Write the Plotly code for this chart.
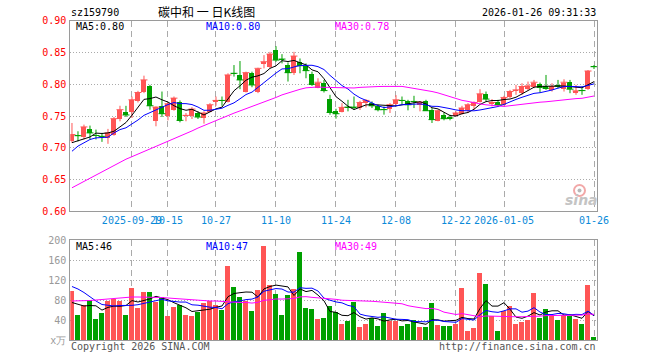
import plotly.graph_objects as go
import pandas as pd

# ---------------- data ----------------
sep_days = [15, 16, 17, 18, 19, 22, 23, 24, 25, 26, 29, 30]
oct_days = [9, 10, 13, 14, 15, 16, 17, 20, 21, 22, 23, 24, 27, 28, 29, 30, 31]
nov_days = [3, 4, 5, 6, 7, 10, 11, 12, 13, 14, 17, 18, 19, 20, 21, 24, 25, 26, 27, 28]
dec_days = [1, 2, 3, 4, 5, 8, 9, 10, 11, 12, 15, 16, 17, 18, 19, 22, 23, 24, 25, 26, 29, 30, 31]
jan_days = [5, 6, 7, 8, 9, 12, 13, 14, 15, 16, 19, 20, 21, 22, 23, 26]

dates = ([f"2025-09-{d:02d}" for d in sep_days] + [f"2025-10-{d:02d}" for d in oct_days]
         + [f"2025-11-{d:02d}" for d in nov_days] + [f"2025-12-{d:02d}" for d in dec_days]
         + [f"2026-01-{d:02d}" for d in jan_days])

open_ = [0.7104, 0.7195, 0.7182, 0.7302, 0.7195, 0.7182, 0.7156, 0.7208, 0.7453, 0.7568,
         0.7573, 0.7739, 0.7875, 0.7974, 0.7432, 0.7661, 0.7505, 0.7599, 0.7729, 0.7505,
         0.7505, 0.7547, 0.7468, 0.7573, 0.7740, 0.7750, 0.7729, 0.8177, 0.8146, 0.7885,
         0.8182, 0.7875, 0.8318, 0.8276, 0.8536, 0.8401, 0.8312, 0.8182, 0.8349, 0.8292,
         0.8161, 0.7953, 0.8031, 0.7766, 0.7583, 0.7573, 0.7645, 0.7645, 0.7625, 0.7719,
         0.7703, 0.7661, 0.7604, 0.7614, 0.7693, 0.7750, 0.7740, 0.7734, 0.7693, 0.7740,
         0.7599, 0.7432, 0.7521, 0.7474, 0.7510, 0.7536, 0.7599, 0.7661, 0.7729, 0.7849,
         0.7708, 0.7729, 0.7677, 0.7807, 0.7906, 0.7859, 0.7922, 0.7964, 0.8016, 0.7974,
         0.7911, 0.8000, 0.7937, 0.8042, 0.7859, 0.7905, 0.7922, 0.8281]
high = [0.7390, 0.7260, 0.7364, 0.7349, 0.7286, 0.7234, 0.7297, 0.7484, 0.7661, 0.7660,
        0.7807, 0.7896, 0.8135, 0.7990, 0.7650, 0.7885, 0.7713, 0.7807, 0.7745, 0.7547,
        0.7640, 0.7573, 0.7573, 0.7703, 0.7807, 0.7807, 0.8172, 0.8302, 0.8365, 0.8198,
        0.8198, 0.8260, 0.8458, 0.8510, 0.8599, 0.8474, 0.8344, 0.8510, 0.8406, 0.8328,
        0.8198, 0.8094, 0.8068, 0.7833, 0.7614, 0.7703, 0.7755, 0.7807, 0.7739, 0.7766,
        0.7730, 0.7677, 0.7651, 0.7703, 0.7828, 0.7807, 0.7755, 0.7818, 0.7729, 0.7755,
        0.7625, 0.7599, 0.7557, 0.7520, 0.7573, 0.7661, 0.7703, 0.7729, 0.7922, 0.7885,
        0.7766, 0.7755, 0.7818, 0.7911, 0.7990, 0.8016, 0.8042, 0.8068, 0.8026, 0.8146,
        0.8016, 0.8068, 0.8078, 0.8068, 0.7990, 0.7964, 0.8224, 0.8302]
low = [0.7078, 0.7100, 0.7130, 0.7130, 0.7130, 0.7093, 0.7062, 0.7190, 0.7416, 0.7484,
       0.7469, 0.7713, 0.7860, 0.7599, 0.7338, 0.7484, 0.7432, 0.7583, 0.7400, 0.7417,
       0.7453, 0.7453, 0.7380, 0.7557, 0.7661, 0.7661, 0.7713, 0.8120, 0.7922, 0.7870,
       0.7953, 0.7860, 0.8250, 0.8250, 0.8354, 0.8328, 0.8042, 0.8146, 0.8172, 0.8094,
       0.7974, 0.7937, 0.7870, 0.7520, 0.7458, 0.7557, 0.7573, 0.7599, 0.7594, 0.7635,
       0.7625, 0.7573, 0.7521, 0.7547, 0.7661, 0.7677, 0.7589, 0.7625, 0.7573, 0.7583,
       0.7390, 0.7416, 0.7432, 0.7432, 0.7495, 0.7521, 0.7547, 0.7599, 0.7713, 0.7729,
       0.7651, 0.7641, 0.7661, 0.7781, 0.7833, 0.7833, 0.7901, 0.7937, 0.7870, 0.7911,
       0.7885, 0.7937, 0.7885, 0.7859, 0.7833, 0.7833, 0.7911, 0.8240]
close = [0.7208, 0.7190, 0.7328, 0.7234, 0.7193, 0.7180, 0.7234, 0.7458, 0.7599, 0.7516,
         0.7755, 0.7870, 0.8068, 0.7661, 0.7640, 0.7536, 0.7693, 0.7781, 0.7432, 0.7510,
         0.7609, 0.7484, 0.7547, 0.7677, 0.7745, 0.7745, 0.8146, 0.8172, 0.8068, 0.8182,
         0.7989, 0.8250, 0.8354, 0.8474, 0.8380, 0.8396, 0.8182, 0.8443, 0.8292, 0.8214,
         0.8000, 0.8031, 0.7900, 0.7557, 0.7536, 0.7635, 0.7640, 0.7640, 0.7713, 0.7745,
         0.7661, 0.7599, 0.7600, 0.7677, 0.7755, 0.7745, 0.7677, 0.7729, 0.7719, 0.7583,
         0.7443, 0.7583, 0.7458, 0.7469, 0.7547, 0.7625, 0.7677, 0.7713, 0.7849, 0.7766,
         0.7713, 0.7677, 0.7792, 0.7885, 0.7911, 0.7964, 0.7974, 0.8031, 0.7953, 0.7937,
         0.7964, 0.7974, 0.8031, 0.7922, 0.7896, 0.7900, 0.8208, 0.8276]
volume = [98, 51, 70, 80, 43, 55, 78, 83, 78, 51,
          104, 64, 96, 96, 77, 86, 48, 66, 71, 51,
          49, 56, 74, 78, 71, 61, 149, 106, 86, 78,
          59, 100, 188, 110, 92, 51, 90, 102, 176, 65,
          63, 43, 45, 69, 57, 33, 39, 77, 27, 33,
          45, 29, 55, 39, 39, 29, 33, 41, 27, 27,
          75, 31, 29, 29, 33, 104, 19, 25, 134, 112,
          49, 19, 59, 69, 33, 37, 41, 94, 45, 63,
          49, 41, 51, 49, 43, 33, 110, 7]

# moving-average values before the window is full
ma5_head = [0.7080, 0.7104, 0.7140, 0.7170]
ma10_head = [0.6945, 0.7026, 0.7078, 0.7130, 0.7156, 0.7156, 0.7167, 0.7234, 0.7286]
ma30_head = [0.6370, 0.6420, 0.6470, 0.6520, 0.6575, 0.6625, 0.6670, 0.6720, 0.6770, 0.6820,
             0.6860, 0.6900, 0.6940, 0.6980, 0.7016, 0.7060, 0.7100, 0.7140, 0.7180, 0.7220,
             0.7265, 0.7310, 0.7350, 0.7395, 0.7438, 0.7470, 0.7510, 0.7545, 0.7580]
vma5_head = [75, 71, 68, 69]
vma10_head = [107, 102, 95, 86, 78, 71, 69, 68, 69]
vma30_head = [78, 78, 78, 79, 80, 81, 83, 84, 85, 85,
              86, 86, 86, 86, 86, 85, 84, 83, 83, 82,
              81, 80, 79, 78, 78, 77, 76, 76, 75]

tick_dates = ["2025-09-29", "2025-10-15", "2025-10-27", "2025-11-10", "2025-11-24",
              "2025-12-08", "2025-12-22", "2026-01-05", "2026-01-26"]
tick_text = ["2025-09-29", "10-15", "10-27", "11-10", "11-24", "12-08", "12-22",
             "2026-01-05", "01-26"]
price_ticks = [0.60, 0.65, 0.70, 0.75, 0.80, 0.85, 0.90]
vol_ticks = [0, 40, 80, 120, 160, 200]
vol_tick_text = ["x万", "40", "80", "120", "160", "200"]

# ---------------- derived ----------------
def with_head(series, n, head):
    m = pd.Series(series, dtype=float).rolling(n).mean().tolist()
    return list(head) + m[len(head):]

ma5 = with_head(close, 5, ma5_head)
ma10 = with_head(close, 10, ma10_head)
ma30 = with_head(close, 30, ma30_head)
vma5 = with_head(volume, 5, vma5_head)
vma10 = with_head(volume, 10, vma10_head)
vma30 = with_head(volume, 30, vma30_head)

RED = "#ff5555"
GREEN = "#00a000"
up = [c >= o for o, c in zip(open_, close)]
cols = [RED if u else GREEN for u in up]

fig = go.Figure()

# candle bodies and wicks
for flag, col in ((True, RED), (False, GREEN)):
    idx = [i for i in range(len(dates)) if up[i] == flag]
    fig.add_trace(go.Bar(
        x=[dates[i] for i in idx],
        base=[min(open_[i], close[i]) for i in idx],
        y=[abs(close[i] - open_[i]) for i in idx],
        marker=dict(color=col, line=dict(width=0)),
        width=0.8, xaxis="x", yaxis="y", hoverinfo="skip"))
    wx, wy = [], []
    for i in idx:
        wx += [dates[i], dates[i], None]
        wy += [low[i], high[i], None]
    fig.add_trace(go.Scatter(x=wx, y=wy, mode="lines", line=dict(color=col, width=1),
                             xaxis="x", yaxis="y", hoverinfo="skip"))

# horizontal tick at the close (visible on doji candles)
fig.add_trace(go.Scatter(
    x=dates, y=close, mode="markers",
    marker=dict(symbol="line-ew", size=5, line=dict(color=cols, width=1)),
    xaxis="x", yaxis="y", hoverinfo="skip"))

for vals, col in ((ma5, "#000000"), (ma10, "#0000ff"), (ma30, "#ff00ff")):
    fig.add_trace(go.Scatter(x=dates, y=vals, mode="lines", line=dict(color=col, width=1),
                             xaxis="x", yaxis="y", hoverinfo="skip"))

# volume
fig.add_trace(go.Bar(x=dates, y=volume, marker=dict(color=cols, line=dict(width=0)),
                     width=0.8, xaxis="x2", yaxis="y2", hoverinfo="skip"))
for vals, col in ((vma5, "#000000"), (vma10, "#0000ff"), (vma30, "#ff00ff")):
    fig.add_trace(go.Scatter(x=dates, y=vals, mode="lines", line=dict(color=col, width=1),
                             xaxis="x2", yaxis="y2", hoverinfo="skip"))

W, H = 660, 360


def fx(x):
    return x / W


def fy(y):
    return 1 - y / H


L, R = 70.3, 597.3
xdom = [fx(L), fx(R)]
MONO = "DejaVu Sans Mono"
BORDER = "#9a9a9a"
GRID = "#aaaaaa"
xr = [-0.28, 87.55]

common_x = dict(type="category", categoryorder="array", categoryarray=dates,
                range=xr, domain=xdom, tickmode="array", tickvals=tick_dates,
                showgrid=True, gridcolor=GRID, griddash="6px,4px", gridwidth=1,
                showline=True, mirror=True, linecolor=BORDER, linewidth=1,
                zeroline=False, ticks="", fixedrange=True, automargin=False,
                tickangle=0)

common_y = dict(showgrid=True, gridcolor=GRID, griddash="1px,2px", gridwidth=1,
                showline=True, mirror=True, linecolor=BORDER, linewidth=1,
                zeroline=False, ticks="", fixedrange=True, automargin=False,
                ticklabelstandoff=1)

fig.update_layout(
    width=W, height=H, margin=dict(l=0, r=0, t=0, b=0, autoexpand=False),
    paper_bgcolor="white", plot_bgcolor="white",
    showlegend=False, barmode="overlay", bargap=0,
    font=dict(family=MONO, size=10, color="#000"),
    xaxis=dict(common_x, anchor="y", ticktext=tick_text,
               tickfont=dict(family=MONO, size=10, color="#0b8ad9"), showticklabels=True),
    yaxis=dict(common_y, domain=[fy(211.3), fy(20.7)], range=[0.60, 0.90],
               tickmode="array", tickvals=price_ticks,
               ticktext=[f"{v:.2f}" for v in price_ticks],
               tickfont=dict(family=MONO, size=10, color="#ff0000"), anchor="x"),
    xaxis2=dict(common_x, anchor="y2", showticklabels=False),
    yaxis2=dict(common_y, domain=[fy(340), fy(240)], range=[0, 200],
                tickmode="array", tickvals=vol_ticks, ticktext=vol_tick_text,
                tickfont=dict(family=MONO, size=10, color="#999999"), anchor="x2"),
)


def px_ann(text, x, y, color="#000", size=10, xanchor="left", family=MONO, **kw):
    fig.add_annotation(text=text, x=fx(x), y=fy(y), xref="paper", yref="paper",
                       xanchor=xanchor, yanchor="middle", showarrow=False,
                       font=dict(family=family, size=size, color=color), **kw)


px_ann("sz159790", 69, 12.5)
px_ann("碳中和 一 日K线图", 206, 12, xanchor="center", size=12, family="Noto Sans CJK SC")
px_ann("2026-01-26 09:31:33", 598, 12.5, xanchor="right")
px_ann("MA5:0.80", 74, 26.5)
px_ann("MA10:0.80", 204, 26.5, color="#0000ff")
px_ann("MA30:0.78", 333, 26.5, color="#ff00ff")
px_ann("MA5:46", 74, 246.5)
px_ann("MA10:47", 204, 246.5, color="#0000ff")
px_ann("MA30:49", 333, 246.5, color="#ff00ff")
px_ann("Copyright 2026 SINA.COM", 69, 346, color="#555555")
px_ann("http://finance.sina.com.cn", 598, 346, color="#555555", xanchor="right")
px_ann("<b><i>sina</i></b>", 581, 200, color="#c4c4c4", size=14, xanchor="center",
       family="DejaVu Sans")

# sina logo eye (decorative shape)
fig.add_shape(type="circle", xref="paper", yref="paper",
              x0=fx(574), x1=fx(585), y0=fy(196), y1=fy(185),
              line=dict(color="#f2a8a8", width=2), fillcolor="rgba(0,0,0,0)")
fig.add_shape(type="circle", xref="paper", yref="paper",
              x0=fx(577.5), x1=fx(581.5), y0=fy(192.5), y1=fy(188.5),
              line=dict(width=0), fillcolor="#b8b8b8")

# remove the browser's default 8px page margin so the figure fills the window
fig.write_html("out.html",
               config={"displayModeBar": False},
               post_script="document.body.style.margin='0';document.body.style.overflow='hidden';")
